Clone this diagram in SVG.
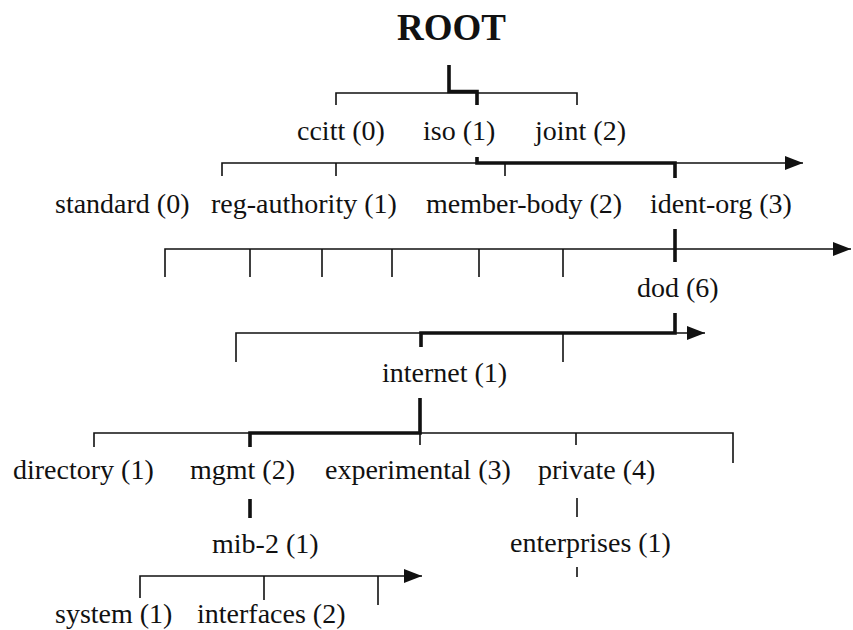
<svg xmlns="http://www.w3.org/2000/svg" width="853" height="630" viewBox="0 0 853 630">
  <style>
    .lbl { font-family: "Liberation Serif", "Times New Roman", serif; font-size: 28px; fill: #111; }
    .title { font-family: "Liberation Serif", "Times New Roman", serif; font-size: 37px; font-weight: bold; fill: #111; }
    .thin { fill: none; stroke: #111; stroke-width: 1.6; }
    .thick { fill: none; stroke: #111; stroke-width: 3.6; stroke-linejoin: miter; }
  </style>
  <defs>
    <marker id="arrow" markerUnits="userSpaceOnUse" markerWidth="20" markerHeight="16" refX="18" refY="8" orient="auto">
      <path d="M0,1 L18,8 L0,15 Z" fill="#111"/>
    </marker>
  </defs>
  <rect width="853" height="630" fill="#fff"/>

  <!-- connectors: horizontal rails with ticks, thick path marks the route to each highlighted node -->
  <g id="connectors">
    <!-- ROOT children -->
    <path class="thin" d="M336,105 V93 H577 V105"/>
    <path class="thick" d="M449,65 V91.5 H477 V105"/>
    <!-- iso children -->
    <path class="thin" d="M222,176 V163 H803" marker-end="url(#arrow)"/>
    <path class="thin" d="M336,163 V176 M505,163 V176"/>
    <path class="thick" d="M477,157 V163 H675 V178"/>
    <!-- identified-organization children -->
    <path class="thin" d="M165,277 V249 H851" marker-end="url(#arrow)"/>
    <path class="thin" d="M250,249 V277 M322,249 V277 M392,249 V277 M479,249 V277 M563,249 V277"/>
    <path class="thick" d="M675,229 V262"/>
    <!-- dod children -->
    <path class="thin" d="M236,362 V333 H705" marker-end="url(#arrow)"/>
    <path class="thin" d="M563,333 V362"/>
    <path class="thick" d="M675,313 V333 H421 V347"/>
    <!-- internet children -->
    <path class="thin" d="M94,447 V433 H733 V463"/>
    <path class="thin" d="M420,433 V445 M576,433 V445"/>
    <path class="thick" d="M420,398 V433 H250 V447"/>
    <!-- mgmt to mib-2, private to enterprises -->
    <path class="thick" d="M250,499 V518"/>
    <path class="thin" d="M577,498 V517 M577,567 V577"/>
    <!-- mib-2 children -->
    <path class="thin" d="M140,598 V576 H422" marker-end="url(#arrow)"/>
    <path class="thin" d="M264,576 V600 M378,576 V605"/>
  </g>

  <g id="root"><text class="title" x="397" y="40">ROOT</text></g>

  <g id="ccitt"><text class="lbl" x="297" y="140">ccitt (0)</text></g>
  <g id="iso"><text class="lbl" x="423" y="140">iso (1)</text></g>
  <g id="joint"><text class="lbl" x="535" y="140">joint (2)</text></g>

  <g id="standard"><text class="lbl" x="55" y="213">standard (0)</text></g>
  <g id="reg-authority"><text class="lbl" x="211" y="213">reg-authority (1)</text></g>
  <g id="member-body"><text class="lbl" x="426" y="213">member-body (2)</text></g>
  <g id="ident-org"><text class="lbl" x="650" y="213">ident-org (3)</text></g>

  <g id="dod"><text class="lbl" x="637" y="297">dod (6)</text></g>

  <g id="internet"><text class="lbl" x="382" y="382">internet (1)</text></g>

  <g id="directory"><text class="lbl" x="13" y="479">directory (1)</text></g>
  <g id="mgmt"><text class="lbl" x="190" y="479">mgmt (2)</text></g>
  <g id="experimental"><text class="lbl" x="325" y="479">experimental (3)</text></g>
  <g id="private"><text class="lbl" x="538" y="479">private (4)</text></g>

  <g id="mib-2"><text class="lbl" x="212" y="553">mib-2 (1)</text></g>
  <g id="enterprises"><text class="lbl" x="510" y="552">enterprises (1)</text></g>

  <g id="system"><text class="lbl" x="55" y="623">system (1)</text></g>
  <g id="interfaces"><text class="lbl" x="197" y="623">interfaces (2)</text></g>
</svg>
